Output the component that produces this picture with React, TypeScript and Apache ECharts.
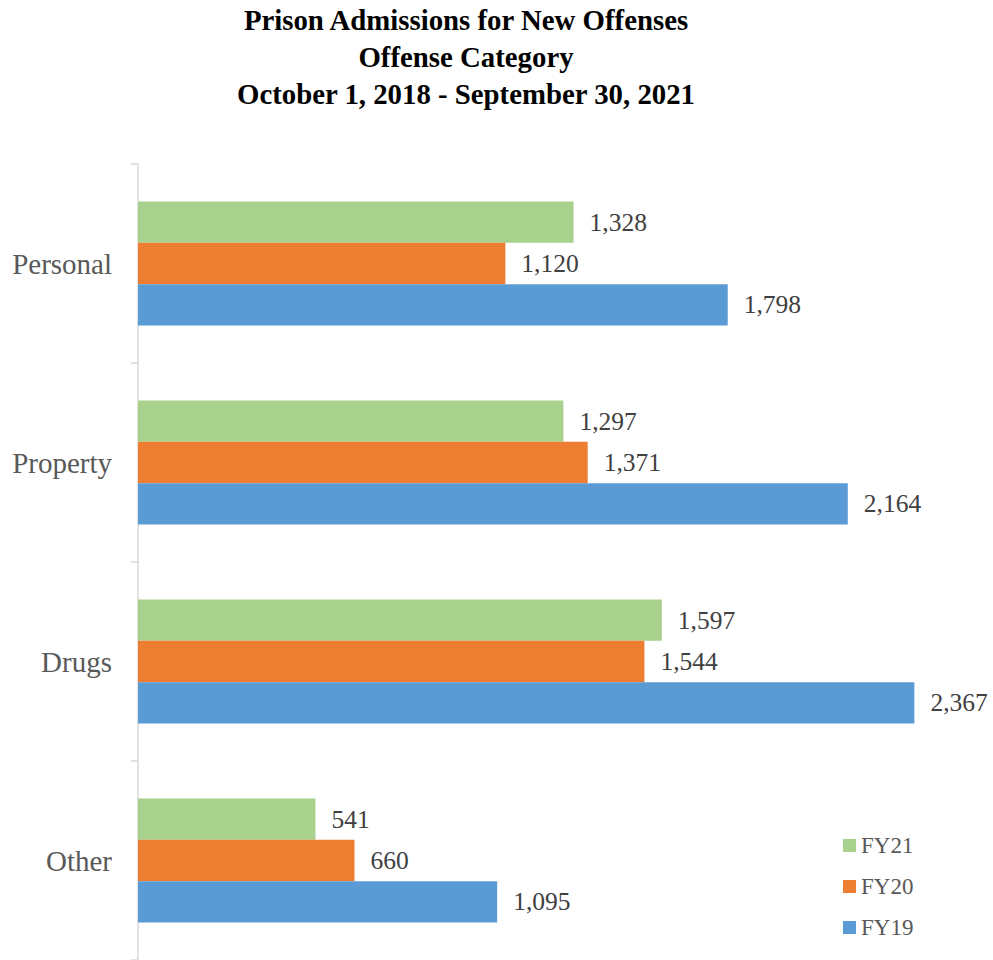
import React, { useEffect, useRef } from "react";
import * as echarts from "echarts";

const categories = ["Personal", "Property", "Drugs", "Other"];
const fy21 = [1328, 1297, 1597, 541];
const fy20 = [1120, 1371, 1544, 660];
const fy19 = [1798, 2164, 2367, 1095];
const titleLines = [
  "Prison Admissions for New Offenses",
  "Offense Category",
  "October 1, 2018 - September 30, 2021",
];

const FONT = "'Liberation Serif', 'Times New Roman', serif";

export default function App() {
  const ref = useRef<HTMLDivElement>(null);
  useEffect(() => {
    if (!ref.current) return;
    const chart = echarts.init(ref.current, null, { renderer: "svg" });
    const label = {
      show: true,
      position: "right",
      distance: 16,
      color: "#404040",
      fontSize: 25.5,
      fontFamily: FONT,
      formatter: (p: any) => Number(p.value).toLocaleString("en-US"),
    };
    const mk = (name: string, data: number[], color: string) => ({
      name,
      type: "bar",
      data,
      barGap: "0%",
      barCategoryGap: "37.7%",
      itemStyle: { color },
      label,
    });
    chart.setOption({
      animation: false,
      graphic: titleLines.map((t, i) => ({
        type: "text",
        x: 466,
        y: [20, 57, 94][i],
        style: {
          text: t,
          fill: "#000",
          font: `bold 28.8px ${FONT}`,
          textAlign: "center",
          textVerticalAlign: "middle",
        },
      })),
      legend: {
        orient: "vertical",
        left: 838,
        top: 829,
        itemWidth: 13,
        itemHeight: 13,
        itemGap: 18,
        icon: "rect",
        data: ["FY21", "FY20", "FY19"],
        textStyle: { color: "#595959", fontSize: 23, fontFamily: FONT },
      },
      grid: { left: 138, top: 164, height: 796, width: 820 },
      xAxis: {
        type: "value",
        min: 0,
        max: 2500,
        show: false,
      },
      yAxis: {
        type: "category",
        data: categories,
        inverse: true,
        axisLine: { lineStyle: { color: "#d9d9d9", width: 1.5 } },
        axisTick: { show: true, length: 7, lineStyle: { color: "#d9d9d9", width: 1.5 } },
        axisLabel: { color: "#595959", fontSize: 29, fontFamily: FONT, margin: 26 },
      },
      series: [
        mk("FY21", fy21, "#a9d18e"),
        mk("FY20", fy20, "#ed7d31"),
        mk("FY19", fy19, "#5b9bd5"),
      ],
    });
    return () => chart.dispose();
  }, []);
  return (
    <div
      ref={ref}
      style={{ position: "fixed", left: 0, top: 0, width: 993, height: 960, background: "#fff" }}
    />
  );
}
